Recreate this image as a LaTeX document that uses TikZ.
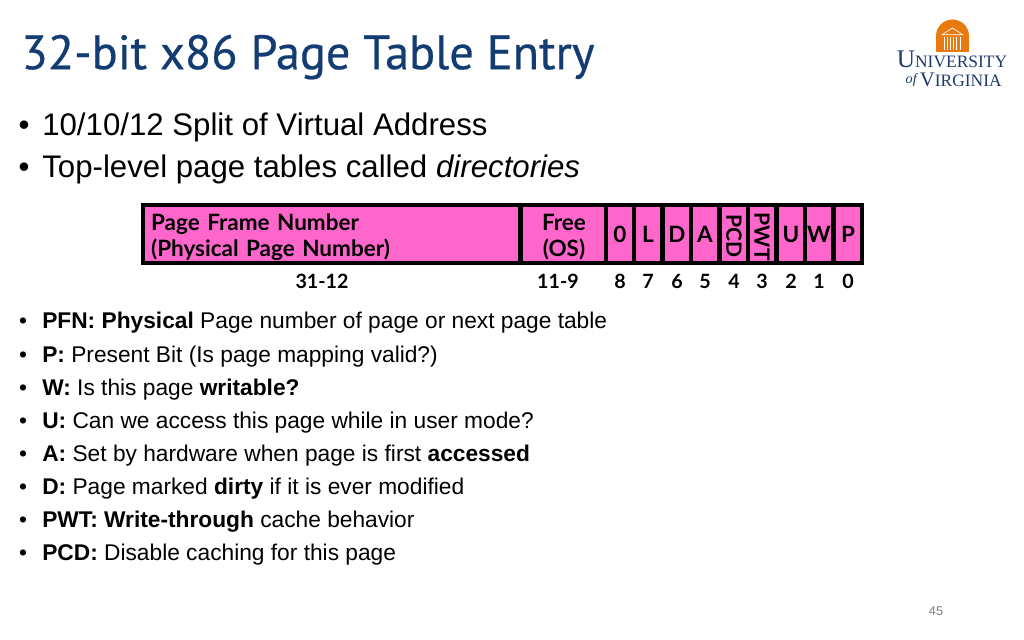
\documentclass[tikz,border=0pt]{standalone}
\usepackage{fontspec}
\setmainfont{Liberation Sans}
\newfontfamily\titlefont[FakeBold=0.5]{PT Sans}
\newfontfamily\cellfont{Lato}
\newfontfamily\logofont{Liberation Serif}
\usetikzlibrary{positioning}
\definecolor{titleblue}{HTML}{133C73}
\definecolor{cellpink}{HTML}{FF66CC}
\definecolor{logoorange}{HTML}{E87A10}
\definecolor{logoblue}{HTML}{1D3A6B}
\newcommand{\cellstrut}{\rule{0pt}{16pt}}
\tikzset{
 cell/.style={draw=black,line width=2.6pt,fill=cellpink,minimum height=1.45cm,inner sep=0pt,align=center,font=\cellfont\bfseries\fontsize{16}{18.5}\selectfont},
 sidelabel/.style={rotate=-90,inner sep=0pt,font=\cellfont\bfseries\fontsize{15}{18}\selectfont},
 bitlabel/.style={anchor=base,font=\cellfont\bfseries\fontsize{14}{16}\selectfont},
 bigbullet/.style={anchor=base west,inner sep=0pt,font=\fontsize{22.2}{26}\selectfont},
 smallbullet/.style={anchor=base west,inner sep=0pt,font=\fontsize{16.17}{19}\selectfont},
}
\begin{document}
\begin{tikzpicture}
 \useasboundingbox (0,0) rectangle (25.6,16);
 % title
 \node (title) [anchor=base west,inner sep=0pt,text=titleblue,font=\titlefont\fontsize{34.4}{40}\selectfont] at (0.53,14.27) {32-bit x86 Page Table Entry};

 % top bullets
 \node (b1) [bigbullet] at (0.46,12.6) {•};
 \node (t1) [bigbullet] at (1.05,12.6) {10/10/12 Split of Virtual Address};
 \node (b2) [bigbullet] at (0.46,11.55) {•};
 \node (t2) [bigbullet] at (1.05,11.55) {Top-level page tables called \textit{directories}};

 % cells
 \node (pfn) [cell,minimum width=9.425cm,text width=9.02cm,align=left] at (8.2875,10.15) {\cellstrut Page Frame Number\\(Physical Page Number)};
 \node (free) [cell,minimum width=2.15cm] at (14.1,10.15) {\cellstrut Free\\(OS)};
 \foreach \n/\x/\txt in {c8/15.5/0,c7/16.2/L,c6/16.925/D,c5/17.625/A,c4/18.35/{},c3/19.05/{},c2/19.775/U,c1/20.475/W,c0/21.2/P} {
  \node (\n) [cell,minimum width=.7125cm] at (\x,10.15) {\txt};
 }
 \node (pcd) [sidelabel] at ([yshift=-.05cm]c4) {PCD};
 \node (pwt) [sidelabel] at ([yshift=-.07cm]c3) {PWT};

 % bit numbers
 \node (r0) [bitlabel] at (8.05,8.775) {31-12};
 \node (r1) [bitlabel] at (13.95,8.775) {11-9};
 \foreach \n/\x/\txt in {n8/15.5/8,n7/16.2/7,n6/16.925/6,n5/17.625/5,n4/18.35/4,n3/19.05/3,n2/19.775/2,n1/20.475/1,n0/21.2/0} {
  \node (\n) [bitlabel] at (\x,8.775) {\txt};
 }

 % field list
 \foreach \n/\y/\txt in {
  0/7.775/{\textbf{PFN: Physical} Page number of page or next page table},
  1/6.946/{\textbf{P:} Present Bit (Is page mapping valid?)},
  2/6.118/{\textbf{W:} Is this page \textbf{writable?}},
  3/5.289/{\textbf{U:} Can we access this page while in user mode?},
  4/4.461/{\textbf{A:} Set by hardware when page is first \textbf{accessed}},
  5/3.632/{\textbf{D:} Page marked \textbf{dirty} if it is ever modified},
  6/2.804/{\textbf{PWT: Write-through} cache behavior},
  7/1.975/{\textbf{PCD:} Disable caching for this page}} {
  \node (d\n) [smallbullet] at (0.47,\y) {•};
  \node (f\n) [smallbullet] at (1.05,\y) {\txt};
 }

 % page number
 \node (page) [anchor=base,inner sep=0pt,text=black!50,font=\fontsize{9}{11}\selectfont] at (23.4,0.62) {45};

 % logo
 \fill[logoorange] (23.4,14.7) rectangle (24.225,15.15);
 \fill[logoorange] (23.4,15.1) arc (180:0:.4125);
 \draw[white,line width=.5pt] (23.55,15.13) -- (23.81,15.3) -- (24.07,15.13) -- cycle;
 \foreach \x in {23.6,23.68,...,24.05} {
  \draw[white,line width=.6pt] (\x,14.76) -- (\x,15.08);
 }
 \node (uni) [anchor=base,inner sep=0pt,text=logoblue,font=\logofont\fontsize{12.4}{13}\selectfont] at (23.8,14.3) {{\fontsize{18}{18}\selectfont U}NIVERSITY};
 \node (vir) [anchor=base,inner sep=0pt,text=logoblue,font=\logofont\fontsize{12.4}{13}\selectfont] at (24.02,13.83) {{\fontsize{14.7}{15}\selectfont V}IRGINIA};
 \node (of) [anchor=base,inner sep=0pt,text=logoblue,font=\logofont\itshape\fontsize{10}{12}\selectfont] at (22.78,13.9) {of};
\end{tikzpicture}
\end{document}
